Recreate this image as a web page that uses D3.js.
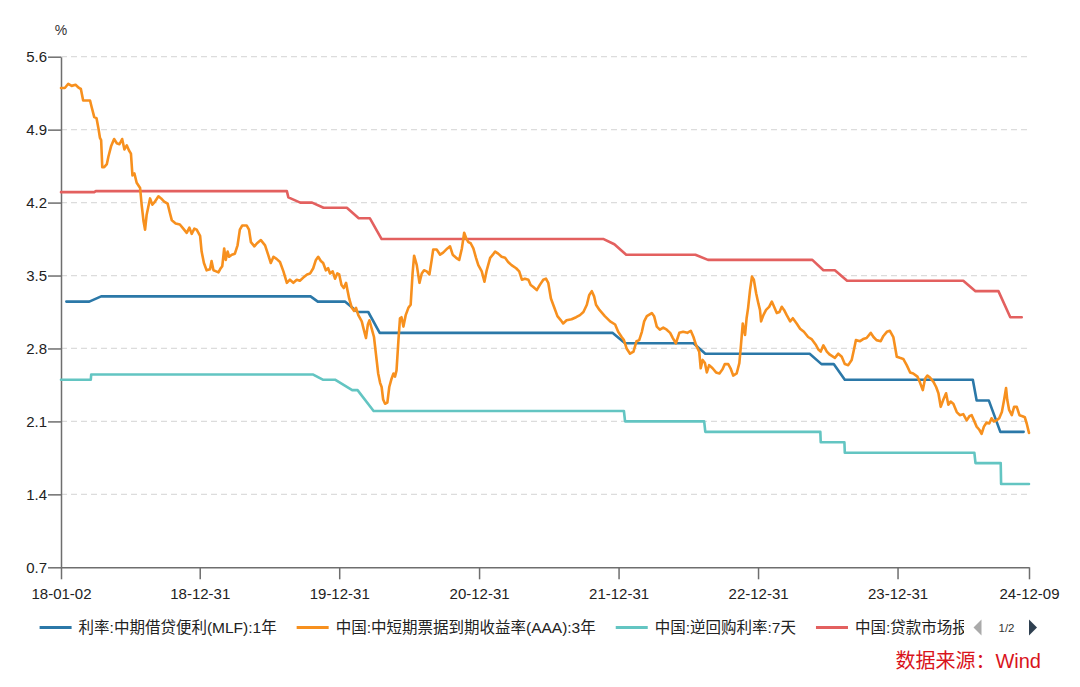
<!DOCTYPE html>
<html><head><meta charset="utf-8">
<script src="https://cdn.jsdelivr.net/npm/d3@7"></script>
<style>
html,body{margin:0;padding:0;background:#fff;}
svg{display:block;font-family:"Liberation Sans","Noto Sans CJK SC",sans-serif;}
</style></head><body>
<svg id="chart" width="1080" height="687"></svg>
<script>
// ---------------- DATA ----------------
const seriesNames = ["利率:中期借贷便利(MLF):1年", "中国:中短期票据到期收益率(AAA):3年", "中国:逆回购利率:7天", "中国:贷款市场报价利率(LPR):1年"];
const xTickDates = ["2018-01-02","2018-12-31","2019-12-31","2020-12-31","2021-12-31","2022-12-31","2023-12-31","2024-12-09"];
const yTickValues = [0.7, 1.4, 2.1, 2.8, 3.5, 4.2, 4.9, 5.6];
const yUnit = "%";
const sourceNote = "数据来源：Wind";
const pagerText = "1/2";

const mlf1y = [["2018-01-16",3.25],["2018-03-17",3.25],["2018-04-17",3.30],["2019-10-17",3.30],["2019-11-05",3.25],["2020-01-15",3.25],["2020-02-17",3.15],["2020-03-16",3.15],["2020-04-15",2.95],["2021-12-15",2.95],["2022-01-17",2.85],["2022-07-15",2.85],["2022-08-15",2.75],["2023-05-15",2.75],["2023-06-15",2.65],["2023-07-17",2.65],["2023-08-15",2.50],["2024-07-15",2.50],["2024-07-25",2.30],["2024-08-26",2.30],["2024-09-25",2.00],["2024-11-25",2.00]];

const notesAAA3y = [["2018-01-02",5.30],["2018-01-12",5.30],["2018-01-21",5.34],["2018-01-30",5.32],["2018-02-09",5.33],["2018-02-18",5.30],["2018-02-23",5.29],["2018-03-01",5.18],["2018-03-10",5.18],["2018-03-19",5.18],["2018-03-23",5.12],["2018-03-30",5.02],["2018-04-05",5.01],["2018-04-10",4.91],["2018-04-14",4.82],["2018-04-17",4.80],["2018-04-20",4.54],["2018-04-25",4.54],["2018-05-02",4.57],["2018-05-06",4.64],["2018-05-13",4.74],["2018-05-21",4.81],["2018-05-28",4.77],["2018-06-04",4.76],["2018-06-11",4.81],["2018-06-17",4.71],["2018-06-23",4.75],["2018-06-29",4.70],["2018-07-04",4.67],["2018-07-08",4.46],["2018-07-13",4.48],["2018-07-19",4.39],["2018-07-28",4.34],["2018-08-01",4.18],["2018-08-06",4.02],["2018-08-10",3.94],["2018-08-14",4.08],["2018-08-18",4.15],["2018-08-23",4.24],["2018-08-29",4.18],["2018-09-05",4.21],["2018-09-14",4.26],["2018-09-21",4.24],["2018-09-29",4.21],["2018-10-08",4.19],["2018-10-14",4.10],["2018-10-19",4.03],["2018-10-29",4.00],["2018-11-09",3.99],["2018-11-18",3.95],["2018-11-27",3.91],["2018-12-04",3.96],["2018-12-10",3.90],["2018-12-17",3.95],["2018-12-23",3.94],["2019-01-01",3.88],["2019-01-05",3.73],["2019-01-11",3.62],["2019-01-18",3.55],["2019-01-27",3.56],["2019-01-31",3.64],["2019-02-05",3.55],["2019-02-12",3.54],["2019-02-18",3.53],["2019-02-24",3.57],["2019-02-28",3.59],["2019-03-05",3.76],["2019-03-09",3.65],["2019-03-14",3.73],["2019-03-18",3.68],["2019-03-25",3.70],["2019-04-02",3.71],["2019-04-09",3.79],["2019-04-15",3.94],["2019-04-21",3.98],["2019-05-03",3.98],["2019-05-09",3.94],["2019-05-14",3.82],["2019-05-23",3.78],["2019-05-30",3.81],["2019-06-09",3.84],["2019-06-20",3.79],["2019-06-28",3.70],["2019-07-05",3.62],["2019-07-12",3.68],["2019-07-20",3.66],["2019-07-29",3.63],["2019-08-07",3.54],["2019-08-16",3.43],["2019-08-24",3.46],["2019-09-02",3.43],["2019-09-11",3.46],["2019-09-19",3.45],["2019-09-28",3.48],["2019-10-08",3.51],["2019-10-16",3.52],["2019-10-24",3.57],["2019-10-31",3.65],["2019-11-06",3.68],["2019-11-13",3.64],["2019-11-19",3.62],["2019-11-26",3.55],["2019-12-02",3.57],["2019-12-07",3.52],["2019-12-14",3.54],["2019-12-20",3.47],["2019-12-26",3.52],["2019-12-31",3.51],["2020-01-06",3.41],["2020-01-12",3.38],["2020-01-18",3.43],["2020-01-21",3.37],["2020-01-26",3.28],["2020-02-02",3.19],["2020-02-08",3.16],["2020-02-13",3.19],["2020-02-19",3.12],["2020-02-28",3.06],["2020-03-03",3.00],["2020-03-10",2.90],["2020-03-15",3.03],["2020-03-19",3.07],["2020-03-25",2.99],["2020-03-31",2.91],["2020-04-05",2.75],["2020-04-11",2.56],["2020-04-16",2.47],["2020-04-20",2.43],["2020-04-24",2.31],["2020-04-29",2.27],["2020-05-05",2.28],["2020-05-10",2.43],["2020-05-16",2.51],["2020-05-21",2.56],["2020-05-25",2.53],["2020-05-29",2.59],["2020-06-03",2.88],["2020-06-07",3.09],["2020-06-11",3.10],["2020-06-16",3.01],["2020-06-22",3.12],["2020-06-29",3.19],["2020-07-05",3.22],["2020-07-10",3.52],["2020-07-14",3.69],["2020-07-21",3.60],["2020-07-28",3.43],["2020-08-03",3.52],["2020-08-09",3.55],["2020-08-16",3.54],["2020-08-23",3.51],["2020-08-29",3.65],["2020-09-02",3.75],["2020-09-11",3.75],["2020-09-20",3.70],["2020-09-28",3.72],["2020-10-09",3.76],["2020-10-16",3.78],["2020-10-23",3.70],["2020-11-01",3.67],["2020-11-09",3.65],["2020-11-16",3.76],["2020-11-22",3.91],["2020-11-27",3.86],["2020-12-03",3.82],["2020-12-09",3.81],["2020-12-16",3.76],["2020-12-23",3.67],["2020-12-29",3.60],["2021-01-07",3.54],["2021-01-14",3.44],["2021-01-20",3.55],["2021-01-29",3.67],["2021-02-05",3.70],["2021-02-11",3.73],["2021-02-19",3.71],["2021-02-28",3.68],["2021-03-09",3.67],["2021-03-17",3.63],["2021-03-26",3.60],["2021-04-07",3.57],["2021-04-15",3.54],["2021-04-22",3.46],["2021-04-30",3.47],["2021-05-09",3.46],["2021-05-15",3.41],["2021-05-22",3.39],["2021-05-31",3.36],["2021-06-08",3.41],["2021-06-17",3.46],["2021-06-24",3.47],["2021-06-30",3.43],["2021-07-07",3.28],["2021-07-15",3.20],["2021-07-24",3.11],["2021-08-02",3.07],["2021-08-08",3.04],["2021-08-17",3.07],["2021-08-30",3.08],["2021-09-11",3.10],["2021-09-21",3.12],["2021-09-30",3.15],["2021-10-09",3.22],["2021-10-15",3.31],["2021-10-22",3.35],["2021-10-28",3.30],["2021-11-02",3.22],["2021-11-11",3.17],["2021-11-25",3.11],["2021-12-09",3.06],["2021-12-22",3.03],["2021-12-30",2.96],["2022-01-08",2.91],["2022-01-14",2.88],["2022-01-21",2.80],["2022-01-30",2.75],["2022-02-08",2.77],["2022-02-16",2.87],["2022-02-23",2.88],["2022-03-02",2.96],["2022-03-08",3.06],["2022-03-15",3.11],["2022-03-28",3.14],["2022-04-03",3.11],["2022-04-10",3.01],["2022-04-18",2.98],["2022-04-27",3.00],["2022-05-06",2.98],["2022-05-15",2.95],["2022-05-22",2.90],["2022-05-30",2.85],["2022-06-08",2.95],["2022-06-18",2.96],["2022-06-29",2.95],["2022-07-08",2.97],["2022-07-15",2.91],["2022-07-22",2.83],["2022-07-30",2.77],["2022-08-03",2.61],["2022-08-08",2.69],["2022-08-14",2.66],["2022-08-19",2.57],["2022-08-25",2.64],["2022-09-03",2.61],["2022-09-12",2.57],["2022-09-21",2.56],["2022-09-29",2.60],["2022-10-05",2.65],["2022-10-14",2.65],["2022-10-20",2.61],["2022-10-27",2.54],["2022-11-05",2.56],["2022-11-12",2.66],["2022-11-16",2.82],["2022-11-21",3.04],["2022-11-27",2.93],["2022-12-01",3.09],["2022-12-05",3.19],["2022-12-10",3.36],["2022-12-15",3.49],["2022-12-20",3.46],["2022-12-26",3.33],["2023-01-01",3.23],["2023-01-05",3.17],["2023-01-08",3.06],["2023-01-14",3.12],["2023-01-21",3.17],["2023-01-29",3.20],["2023-02-05",3.25],["2023-02-11",3.20],["2023-02-18",3.14],["2023-02-25",3.15],["2023-03-03",3.20],["2023-03-09",3.17],["2023-03-16",3.12],["2023-03-25",3.06],["2023-04-01",3.09],["2023-04-11",3.04],["2023-04-20",2.99],["2023-04-30",2.96],["2023-05-11",2.91],["2023-05-20",2.89],["2023-06-01",2.83],["2023-06-07",2.79],["2023-06-13",2.77],["2023-06-20",2.83],["2023-06-29",2.77],["2023-07-07",2.74],["2023-07-20",2.71],["2023-07-29",2.75],["2023-08-07",2.72],["2023-08-15",2.65],["2023-08-24",2.64],["2023-09-02",2.69],["2023-09-08",2.79],["2023-09-13",2.88],["2023-09-24",2.87],["2023-10-02",2.89],["2023-10-11",2.90],["2023-10-22",2.95],["2023-10-29",2.91],["2023-11-06",2.88],["2023-11-17",2.87],["2023-11-24",2.92],["2023-12-03",2.96],["2023-12-11",2.97],["2023-12-20",2.91],["2023-12-29",2.72],["2024-01-06",2.71],["2024-01-15",2.70],["2024-01-24",2.64],["2024-02-02",2.57],["2024-02-10",2.56],["2024-02-21",2.53],["2024-02-28",2.47],["2024-03-06",2.40],["2024-03-12",2.51],["2024-03-18",2.54],["2024-03-25",2.52],["2024-04-03",2.48],["2024-04-10",2.43],["2024-04-16",2.37],["2024-04-22",2.24],["2024-04-29",2.31],["2024-05-06",2.37],["2024-05-12",2.26],["2024-05-18",2.29],["2024-05-25",2.27],["2024-06-03",2.19],["2024-06-11",2.16],["2024-06-20",2.17],["2024-06-29",2.11],["2024-07-06",2.15],["2024-07-12",2.16],["2024-07-18",2.11],["2024-07-25",2.05],["2024-08-01",2.02],["2024-08-07",1.98],["2024-08-13",2.05],["2024-08-20",2.09],["2024-08-27",2.08],["2024-09-02",2.13],["2024-09-08",2.10],["2024-09-15",2.11],["2024-09-22",2.13],["2024-09-29",2.19],["2024-10-05",2.31],["2024-10-10",2.42],["2024-10-13",2.31],["2024-10-18",2.21],["2024-10-25",2.16],["2024-10-31",2.24],["2024-11-07",2.24],["2024-11-14",2.16],["2024-11-22",2.15],["2024-11-28",2.14],["2024-12-03",2.08],["2024-12-09",1.99]];

const reverseRepo7d = [["2018-01-02",2.50],["2018-03-21",2.50],["2018-03-22",2.55],["2019-10-24",2.55],["2019-11-18",2.50],["2019-12-20",2.50],["2020-02-03",2.40],["2020-02-17",2.40],["2020-03-30",2.20],["2022-01-14",2.20],["2022-01-17",2.10],["2022-08-12",2.10],["2022-08-15",2.00],["2023-06-12",2.00],["2023-06-13",1.90],["2023-08-14",1.90],["2023-08-15",1.80],["2024-07-19",1.80],["2024-07-22",1.70],["2024-09-26",1.70],["2024-09-27",1.50],["2024-12-09",1.50]];

const lpr1y = [["2018-01-02",4.30],["2018-03-30",4.30],["2018-04-03",4.31],["2019-08-16",4.31],["2019-08-20",4.25],["2019-09-20",4.20],["2019-10-21",4.20],["2019-11-20",4.15],["2020-01-20",4.15],["2020-02-20",4.05],["2020-03-20",4.05],["2020-04-20",3.85],["2021-11-22",3.85],["2021-12-20",3.80],["2022-01-20",3.70],["2022-07-20",3.70],["2022-08-22",3.65],["2023-05-22",3.65],["2023-06-20",3.55],["2023-07-20",3.55],["2023-08-21",3.45],["2024-06-20",3.45],["2024-07-22",3.35],["2024-09-20",3.35],["2024-10-21",3.10],["2024-11-20",3.10]];

// ---------------- STYLE ----------------
const seriesColors = ["#2b78a8", "#f7901e", "#63c5c2", "#e3605f"];
const sourceColor = "#d9141c";

// ---------------- CHART ----------------
const svg = d3.select("#chart");
const plot = {left: 61, right: 1029, top: 56.7, bottom: 567.3};
const parse = d3.utcParse("%Y-%m-%d");
const fmtX = d3.utcFormat("%y-%m-%d");

const x = d3.scaleUtc()
  .domain([parse(xTickDates[0]), parse(xTickDates[xTickDates.length - 1])])
  .range([plot.left, plot.right]);
const y = d3.scaleLinear()
  .domain([d3.min(yTickValues), d3.max(yTickValues)])
  .range([plot.bottom, plot.top]);

// gridlines
svg.append("g").selectAll("line")
  .data(yTickValues.slice(1))
  .join("line")
  .attr("x1", plot.left).attr("x2", plot.right)
  .attr("y1", d => y(d)).attr("y2", d => y(d))
  .attr("stroke", "#dcdcdc").attr("stroke-width", 1.3)
  .attr("stroke-dasharray", "6,4");

// axes
const yAxis = svg.append("g")
  .attr("transform", `translate(${plot.left},0)`)
  .call(d3.axisLeft(y).tickValues(yTickValues).tickFormat(d3.format(".1f"))
        .tickSize(13).tickPadding(1).tickSizeOuter(0));
const xAxis = svg.append("g")
  .attr("transform", `translate(0,${plot.bottom})`)
  .call(d3.axisBottom(x).tickValues(xTickDates.map(parse)).tickFormat(fmtX)
        .tickSize(12).tickPadding(9).tickSizeOuter(0));
[yAxis, xAxis].forEach(g => {
  g.select(".domain").attr("stroke", "#6e6e6e").attr("stroke-width", 1.5);
  g.selectAll(".tick line").attr("stroke", "#6e6e6e").attr("stroke-width", 1.5);
  g.selectAll(".tick text").attr("fill", "#222").style("font-size", "15px")
    .style("font-family", "'Liberation Sans', sans-serif");
});

svg.append("text").attr("x", plot.left).attr("y", 35).attr("text-anchor", "middle")
  .attr("fill", "#333").style("font-size", "14px").text(yUnit);

// lines
const line = d3.line().x(d => x(parse(d[0]))).y(d => y(d[1]));
const drawOrder = [[mlf1y, 0], [reverseRepo7d, 2], [lpr1y, 3], [notesAAA3y, 1]];
drawOrder.forEach(([data, i]) => {
  svg.append("path").datum(data)
    .attr("d", line)
    .attr("fill", "none")
    .attr("stroke", seriesColors[i])
    .attr("stroke-width", 2.6)
    .attr("stroke-linejoin", "round")
    .attr("stroke-linecap", "round");
});

// legend (last item is cut off by the pager, as in the original)
const legendRight = 964;
svg.append("defs").append("clipPath").attr("id", "legclip")
  .append("rect").attr("x", 0).attr("y", 600).attr("width", legendRight).attr("height", 60);
const leg = svg.append("g").attr("clip-path", "url(#legclip)");
const legY = 627.5;
let lx = 39.6;
seriesNames.forEach((name, i) => {
  leg.append("line").attr("x1", lx).attr("x2", lx + 32).attr("y1", legY).attr("y2", legY)
    .attr("stroke", seriesColors[i]).attr("stroke-width", 3);
  const tx = lx + 39;
  const t = leg.append("text").attr("x", tx).attr("y", legY + 5.5)
    .attr("fill", "#222").style("font-size", "15.5px").text(name);
  let shown = name;
  while (shown.length > 1 && t.node().getComputedTextLength() > legendRight - tx + 8) {
    shown = shown.slice(0, -1);
    t.text(shown);
  }
  lx = tx + t.node().getComputedTextLength() + 20;
});

// pager
svg.append("path")
  .attr("d", d3.line()([[981.5, 619.5], [973.5, 627.5], [981.5, 635.5]]) + "Z")
  .attr("fill", "#aaaaaa");
svg.append("text").attr("x", 1006.5).attr("y", 631.5).attr("text-anchor", "middle")
  .attr("fill", "#333").style("font-size", "11.5px").text(pagerText);
svg.append("path")
  .attr("d", d3.line()([[1029, 619.5], [1037, 627.5], [1029, 635.5]]) + "Z")
  .attr("fill", "#2f4050");

// source
svg.append("text").attr("x", 1041).attr("y", 668).attr("text-anchor", "end")
  .attr("fill", sourceColor).style("font-size", "20px").text(sourceNote);
</script>
</body></html>
